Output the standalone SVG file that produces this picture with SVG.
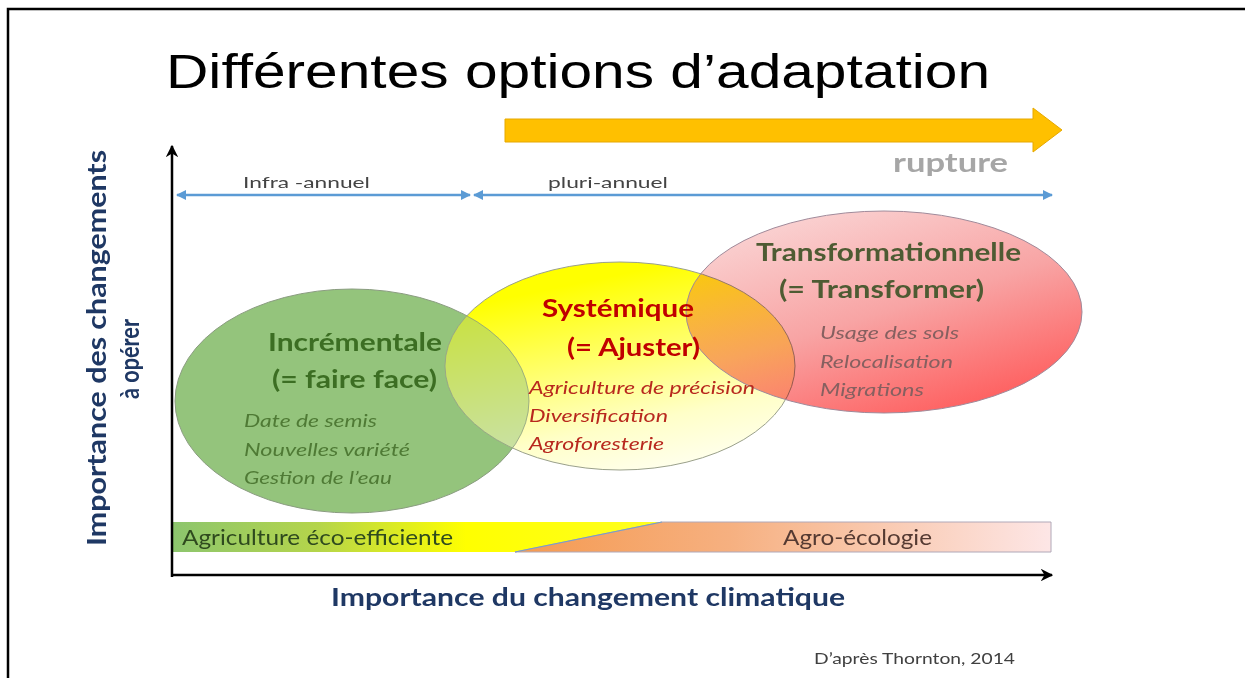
<svg xmlns="http://www.w3.org/2000/svg" width="1245" height="678" viewBox="0 0 1245 678">
<style>
.cal{font-family:Lato,"Open Sans","Liberation Sans",sans-serif}
.b{font-weight:bold}
.i{font-style:italic}
.blue{stroke:#5B9BD5;stroke-width:2.5;fill:none}
.axis{stroke:#000;stroke-width:2.5;fill:none}
</style>
<defs>
<marker id="ab" viewBox="0 0 10 10" refX="9" refY="5" markerWidth="4" markerHeight="4" orient="auto-start-reverse"><path d="M0,0 L10,5 L0,10 z" fill="#5B9BD5"/></marker>
<marker id="ak" viewBox="0 0 10 10" refX="9" refY="5" markerWidth="5" markerHeight="5" orient="auto"><path d="M0,0 L10,5 L0,10 L3,5 z" fill="#000"/></marker>
<linearGradient id="gy" x1="0.35" y1="0" x2="0.7" y2="1"><stop offset="0.1" stop-color="#FFFF00"/><stop offset="0.75" stop-color="#FFFFC8"/><stop offset="1" stop-color="#FFFFF0"/></linearGradient>
<linearGradient id="gr" x1="0.2" y1="0" x2="0.8" y2="1"><stop offset="0" stop-color="#FAD6D6"/><stop offset="0.5" stop-color="#F8A4A4"/><stop offset="1" stop-color="#FF5858"/></linearGradient>
<linearGradient id="gb1" gradientUnits="userSpaceOnUse" x1="172" y1="0" x2="662" y2="0"><stop offset="0" stop-color="#8CC56E"/><stop offset="0.3" stop-color="#B5D54A"/><stop offset="0.6" stop-color="#FFFF00"/><stop offset="1" stop-color="#FFFF20"/></linearGradient>
<linearGradient id="gb2" gradientUnits="userSpaceOnUse" x1="515" y1="0" x2="1051" y2="0"><stop offset="0" stop-color="#F59A50"/><stop offset="0.4" stop-color="#F6B080"/><stop offset="1" stop-color="#FDE6E6"/></linearGradient>
<clipPath id="cy"><ellipse cx="620" cy="366" rx="175" ry="104"/></clipPath>
</defs>
<rect x="0" y="0" width="1245" height="678" fill="#fff"/>
<path d="M8,678 L8,9 L1245,9" fill="none" stroke="#000" stroke-width="2.5"/>

<text x="166" y="88" font-family="Liberation Sans,Arial,sans-serif" font-size="48" textLength="824" lengthAdjust="spacingAndGlyphs" fill="#000">Différentes options d’adaptation</text>

<g id="rupture-arrow">
<path d="M505,119 L1033,119 L1033,108 L1062,130 L1033,152 L1033,142 L505,142 z" fill="#FFC000" stroke="#E6A800" stroke-width="1"/>
<text x="893" y="172" class="cal b" font-size="26" textLength="115" lengthAdjust="spacingAndGlyphs" fill="#A6A6A6">rupture</text>
</g>

<g id="ellipse-incrementale">
<ellipse cx="352" cy="401" rx="177" ry="112" fill="#94C47C" stroke="#8A9C80" stroke-width="1"/>
</g>
<g id="ellipse-systemique">
<ellipse cx="620" cy="366" rx="175" ry="104" fill="url(#gy)" stroke="#9AA08A" stroke-width="1"/>
<ellipse cx="352" cy="401" rx="177" ry="112" fill="#94C47C" opacity="0.5" clip-path="url(#cy)"/>
<ellipse cx="352" cy="401" rx="177" ry="112" fill="none" stroke="#8A9C80" stroke-width="1" clip-path="url(#cy)" opacity="0.8"/>
</g>
<g id="ellipse-transformationnelle">
<ellipse cx="884" cy="312" rx="198" ry="101" fill="url(#gr)" style="mix-blend-mode:multiply"/>
<ellipse cx="884" cy="312" rx="198" ry="101" fill="none" stroke="#A08A9A" stroke-width="1"/>
</g>

<g id="text-incrementale" class="cal">
<text x="268" y="351" class="b" font-size="25" textLength="174" lengthAdjust="spacingAndGlyphs" fill="#3C6E23">Incrémentale</text>
<text x="272" y="388" class="b" font-size="25" textLength="165" lengthAdjust="spacingAndGlyphs" fill="#3C6E23">(= faire face)</text>
<text x="244" y="427" class="i" font-size="17" textLength="133" lengthAdjust="spacingAndGlyphs" fill="#4F7A35">Date de semis</text>
<text x="244" y="456" class="i" font-size="17" textLength="166" lengthAdjust="spacingAndGlyphs" fill="#4F7A35">Nouvelles variété</text>
<text x="244" y="484" class="i" font-size="17" textLength="148" lengthAdjust="spacingAndGlyphs" fill="#4F7A35">Gestion de l’eau</text>
</g>
<g id="text-systemique" class="cal">
<text x="542" y="317" class="b" font-size="25" textLength="152" lengthAdjust="spacingAndGlyphs" fill="#C00000">Systémique</text>
<text x="567" y="356" class="b" font-size="25" textLength="133" lengthAdjust="spacingAndGlyphs" fill="#C00000">(= Ajuster)</text>
<text x="529" y="394" class="i" font-size="17" textLength="226" lengthAdjust="spacingAndGlyphs" fill="#B8281E">Agriculture de précision</text>
<text x="529" y="422" class="i" font-size="17" textLength="139" lengthAdjust="spacingAndGlyphs" fill="#B8281E">Diversification</text>
<text x="529" y="450" class="i" font-size="17" textLength="135" lengthAdjust="spacingAndGlyphs" fill="#B8281E">Agroforesterie</text>
</g>
<g id="text-transformationnelle" class="cal">
<text x="756" y="261" class="b" font-size="25" textLength="265" lengthAdjust="spacingAndGlyphs" fill="#4E5B33">Transformationnelle</text>
<text x="779" y="298" class="b" font-size="25" textLength="205" lengthAdjust="spacingAndGlyphs" fill="#4E5B33">(= Transformer)</text>
<text x="820" y="339" class="i" font-size="17" textLength="139" lengthAdjust="spacingAndGlyphs" fill="#866060">Usage des sols</text>
<text x="820" y="368" class="i" font-size="17" textLength="133" lengthAdjust="spacingAndGlyphs" fill="#866060">Relocalisation</text>
<text x="820" y="396" class="i" font-size="17" textLength="104" lengthAdjust="spacingAndGlyphs" fill="#866060">Migrations</text>
</g>

<g id="bar-eco-efficiente">
<polygon points="172,522 662,522 515,552 172,552" fill="url(#gb1)"/>
<text x="182" y="545" class="cal" font-size="21" textLength="271" lengthAdjust="spacingAndGlyphs" fill="#2F4A1E">Agriculture éco-efficiente</text>
</g>
<g id="bar-agro-ecologie">
<polygon points="662,522 1051,522 1051,552 515,552" fill="url(#gb2)" stroke="#B0A8B8" stroke-width="1"/>
<line x1="515" y1="552" x2="662" y2="522" stroke="#7E9CC0" stroke-width="1.2"/>
<text x="783" y="545" class="cal" font-size="21" textLength="149" lengthAdjust="spacingAndGlyphs" fill="#553A32">Agro-écologie</text>
</g>

<g id="connectors">
<line class="axis" x1="172" y1="577" x2="172" y2="146" marker-end="url(#ak)"/>
<line class="axis" x1="171" y1="575" x2="1052" y2="575" marker-end="url(#ak)"/>
<line class="blue" x1="177" y1="195" x2="470" y2="195" marker-start="url(#ab)" marker-end="url(#ab)"/>
<line class="blue" x1="474" y1="195" x2="1052" y2="195" marker-start="url(#ab)" marker-end="url(#ab)"/>
</g>

<g id="labels" class="cal">
<text x="243" y="188" font-size="16" textLength="127" lengthAdjust="spacingAndGlyphs" fill="#444">Infra -annuel</text>
<text x="548" y="188" font-size="16" textLength="120" lengthAdjust="spacingAndGlyphs" fill="#444">pluri-annuel</text>
<text transform="translate(106,348) rotate(-90)" text-anchor="middle" class="b" font-size="26" textLength="396" lengthAdjust="spacingAndGlyphs" fill="#1F3864">Importance des changements</text>
<text transform="translate(139,359) rotate(-90)" text-anchor="middle" class="b" font-size="26" textLength="80" lengthAdjust="spacingAndGlyphs" fill="#1F3864">à opérer</text>
<text x="331" y="606" class="b" font-size="24" textLength="514" lengthAdjust="spacingAndGlyphs" fill="#1F3864">Importance du changement climatique</text>
<text x="814" y="664" font-size="16" textLength="201" lengthAdjust="spacingAndGlyphs" fill="#404040">D’après Thornton, 2014</text>
</g>
</svg>
